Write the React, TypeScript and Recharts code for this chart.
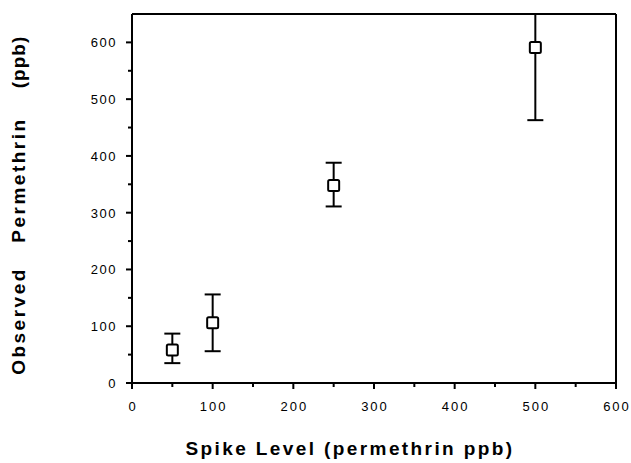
import React from "react";
import {
  ScatterChart,
  Scatter,
  XAxis,
  YAxis,
  ErrorBar,
  ReferenceLine,
} from "recharts";

const spikeLevels = [50, 100, 250, 500];
const observed = [58, 106, 348, 591];
const errLow = [23, 50, 37, 128];
// the 500 ppb bar runs off the top of the frame
const errHigh = [29, 50, 40, 59];

const xTicks = [0, 50, 100, 150, 200, 250, 300, 350, 400, 450, 500, 550, 600];
const yTicks = [0, 50, 100, 150, 200, 250, 300, 350, 400, 450, 500, 550, 600];

const data = spikeLevels.map((x, i) => ({
  x,
  y: observed[i],
  err: [errLow[i], errHigh[i]],
}));

const FONT = '"Liberation Sans", Arial, sans-serif';

const XTick = (props: any) => {
  const { x, y, payload } = props;
  const major = payload.value % 100 === 0;
  return (
    <g>
      <line x1={x} x2={x} y1={y} y2={y + (major ? 6 : 4)} stroke="#000" strokeWidth={2} />
      {major && (
        <text
          x={x + 1}
          y={y + 28}
          textAnchor="middle"
          fontSize={13}
          fontFamily={FONT}
          letterSpacing={2}
          fill="#000"
        >
          {payload.value}
        </text>
      )}
    </g>
  );
};

const YTick = (props: any) => {
  const { x, y, payload } = props;
  const major = payload.value % 100 === 0;
  return (
    <g>
      <line x1={x} x2={x - (major ? 6 : 4)} y1={y} y2={y} stroke="#000" strokeWidth={2} />
      {major && (
        <text
          x={x - 15}
          y={y + 5}
          textAnchor="end"
          fontSize={13}
          fontFamily={FONT}
          letterSpacing={1.5}
          fill="#000"
        >
          {payload.value}
        </text>
      )}
    </g>
  );
};

const SquareMark = (props: any) => {
  const { cx, cy } = props;
  return (
    <rect
      x={cx - 5.5}
      y={cy - 5.5}
      width={11}
      height={11}
      rx={1.5}
      fill="#fff"
      stroke="#000"
      strokeWidth={2}
    />
  );
};

const yLabelParts = [
  { text: "Observed", cy: 321, spacing: 2.5 },
  { text: "Permethrin", cy: 180, spacing: 2.5 },
  { text: "(ppb)", cy: 62, spacing: 1 },
];

export default function App() {
  return (
    <div style={{ position: "absolute", left: 0, top: 0, width: 631, height: 463, background: "#fff" }}>
      <ScatterChart
        width={631}
        height={463}
        margin={{ top: 14, right: 15, bottom: 0, left: 0 }}
      >
        <XAxis
          type="number"
          dataKey="x"
          domain={[0, 600]}
          ticks={xTicks}
          interval={0}
          allowDataOverflow
          tickSize={0}
          tickMargin={0}
          tickLine={false}
          tick={<XTick />}
          axisLine={{ stroke: "#000", strokeWidth: 2 }}
          height={80}
        />
        <YAxis
          type="number"
          dataKey="y"
          domain={[0, 650]}
          ticks={yTicks}
          interval={0}
          allowDataOverflow
          tickSize={0}
          tickMargin={0}
          tickLine={false}
          tick={<YTick />}
          axisLine={{ stroke: "#000", strokeWidth: 2 }}
          width={132}
        />
        <ReferenceLine y={650} stroke="#000" strokeWidth={2} />
        <ReferenceLine x={600} stroke="#000" strokeWidth={2} />
        <Scatter data={data} shape={<SquareMark />} isAnimationActive={false}>
          <ErrorBar
            dataKey="err"
            direction="y"
            width={8}
            stroke="#000"
            strokeWidth={2}
            isAnimationActive={false}
          />
        </Scatter>
        <text
          x={350}
          y={455}
          textAnchor="middle"
          fontSize={19}
          fontWeight="bold"
          fontFamily={FONT}
          letterSpacing={2.4}
          fill="#000"
        >
          Spike Level (permethrin ppb)
        </text>
        {yLabelParts.map((p) => (
          <text
            key={p.text}
            x={25}
            y={p.cy}
            transform={`rotate(-90 25 ${p.cy})`}
            textAnchor="middle"
            fontSize={19}
            fontWeight="bold"
            fontFamily={FONT}
            letterSpacing={p.spacing}
            fill="#000"
          >
            {p.text}
          </text>
        ))}
      </ScatterChart>
    </div>
  );
}
